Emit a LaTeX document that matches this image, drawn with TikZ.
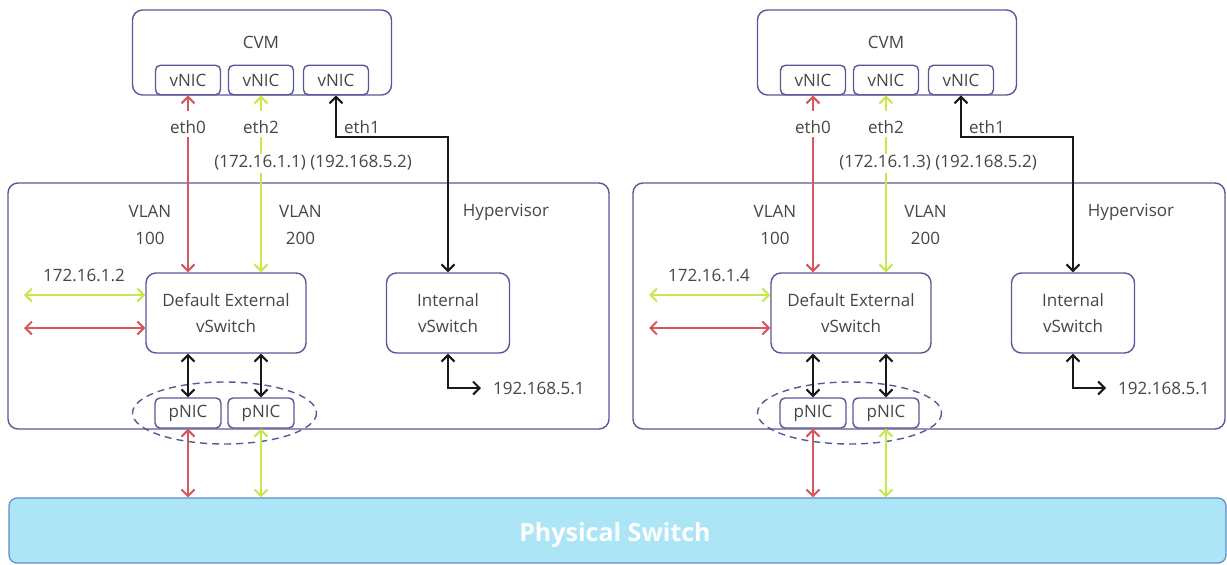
\documentclass[tikz,border=0pt]{standalone}
\usepackage{fontspec}
\setmainfont{Open Sans}
\usetikzlibrary{arrows.meta}
\definecolor{lnred}{RGB}{214,88,92}
\definecolor{lngreen}{RGB}{198,232,76}
\definecolor{lnblack}{RGB}{25,25,25}
\definecolor{boxblue}{RGB}{88,88,150}
\definecolor{txtgray}{RGB}{70,70,70}
\definecolor{psfill}{RGB}{172,229,246}
\definecolor{psdraw}{RGB}{96,140,196}
\tikzset{
  box/.style={draw=boxblue, line width=1.4pt, rounded corners=10pt, fill=white, inner sep=0pt},
  nic/.style={draw=boxblue, line width=1.4pt, rounded corners=5pt, fill=white, minimum width=65pt, minimum height=29.5pt, inner sep=0pt, font=\fontsize{17}{20}\selectfont, text=txtgray},
  txt/.style={font=\fontsize{17}{26.5}\selectfont, text=txtgray, inner sep=1pt, align=center},
  lbl/.style={txt, fill=white, inner xsep=3pt, inner ysep=2pt, text height=20pt, text depth=2pt},
  iplbl/.style={txt, fill=white, inner sep=2pt},
  redln/.style={draw=lnred, line width=2pt},
  grnln/.style={draw=lngreen, line width=2pt},
  blkln/.style={draw=lnblack, line width=2pt},
}
\newcommand\hostpart[5]{%
\begin{scope}[xshift=#1pt]
  \node[box, minimum width=#5pt, minimum height=246pt] (hv#2) at ({8+#5/2},306) {};
  \node[box, minimum width=259pt, minimum height=85pt] (cvm#2) at (262,52.5) {};
  \node[txt] (cvmt#2) at (261,42) {CVM};
  \node[nic] (va#2) at (188,80) {vNIC};
  \node[nic] (vb#2) at (261,80) {vNIC};
  \node[nic] (vc#2) at (336,80) {vNIC};
  \node[box, minimum width=160pt, minimum height=80pt, txt] (ext#2) at (226,313) {Default External\\vSwitch};
  \node[box, minimum width=123pt, minimum height=80pt, txt] (int#2) at (448,313) {Internal\\vSwitch};
  \draw[draw=boxblue, line width=1.4pt, dash pattern=on 7pt off 5pt] (224.5,413) ellipse [x radius=92, y radius=31];
  \node[nic, minimum width=66pt, minimum height=30pt] (pa#2) at (188,413) {pNIC};
  \node[nic, minimum width=66pt, minimum height=30pt] (pb#2) at (261,413) {pNIC};
  \node[txt] (vl1#2) at (150,225) {VLAN\\100};
  \node[txt] (vl2#2) at (300.5,225) {VLAN\\200};
  \node[txt] (hvt#2) at (506,212) {Hypervisor};
  % CVM links
  \draw[redln,<->] (va#2.south) -- (va#2.south |- ext#2.north)
     node[lbl, pos=0.164] (eth0#2) {eth0};
  \draw[grnln,<->] (vb#2.south) -- (vb#2.south |- ext#2.north)
     node[lbl, pos=0.164] (eth2#2) {eth2};
  \node[iplbl] (ips#2) at (313,163) {(#3) (192.168.5.2)};
  \draw[blkln,<->] (vc#2.south) -- ++(0,41.5) -| (int#2.north);
  \node[txt] (eth1#2) at (362,127) {eth1};
  % left side links
  \coordinate (gl#2) at (24,295);
  \coordinate (rl#2) at (24,328);
  \draw[grnln,<->] (gl#2) -- (gl#2 -| ext#2.west);
  \draw[redln,<->] (rl#2) -- (rl#2 -| ext#2.west);
  \node[txt] (ipl#2) at (84,275) {#4};
  % pNIC links
  \draw[blkln,<->] (pa#2.north) -- (pa#2.north |- ext#2.south);
  \draw[blkln,<->] (pb#2.north) -- (pb#2.north |- ext#2.south);
  % internal link
  \coordinate (ie#2) at (481,388);
  \draw[blkln,<->] (int#2.south) |- (ie#2);
  \node[txt, anchor=west] (iip#2) at (492,388) {192.168.5.1};
  % physical switch links
  \draw[redln,<->] (pa#2.south) -- (pa#2.south |- ps.north);
  \draw[grnln,<->] (pb#2.south) -- (pb#2.south |- ps.north);
\end{scope}}
\begin{document}
\begin{tikzpicture}[x=1pt, y=-1pt, >={Straight Barb[length=6.5pt,width=13pt]}]
  \useasboundingbox (0,0) rectangle (1227,565);
  \node[fill=psfill, draw=psdraw, line width=1.2pt, rounded corners=8pt, minimum width=1217pt, minimum height=65pt, inner sep=0pt] (ps) at (617.5,530.5) {};
  \node[font=\fontsize{25}{28}\selectfont\bfseries, text=white] (pst) at (615,535) {Physical Switch};
  \hostpart{0}{L}{172.16.1.1}{172.16.1.2}{601}
  \hostpart{625}{R}{172.16.1.3}{172.16.1.4}{592}
\end{tikzpicture}
\end{document}
